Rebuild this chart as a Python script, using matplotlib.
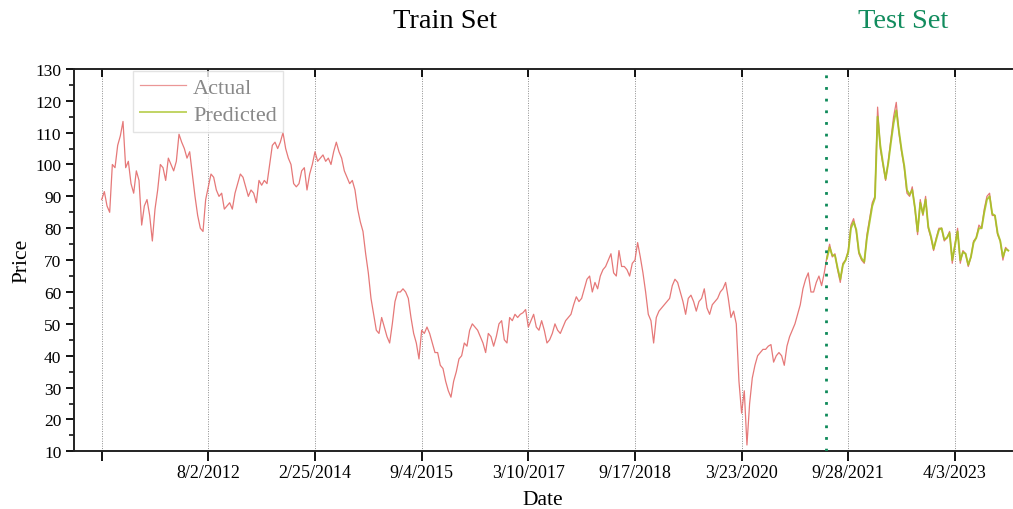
import numpy as np
import matplotlib
matplotlib.use("Agg")
import matplotlib.pyplot as plt
from matplotlib.ticker import MultipleLocator

plt.rcParams['font.family'] = ['Liberation Serif', 'DejaVu Serif']

# Daily closing price, one value every 10 trading days
actual = [
    89, 91.5, 87, 85, 100, 99, 106, 109, 113.5, 99,
    101, 94, 91, 98, 95, 81, 87, 89, 84, 76,
    86, 92, 100, 99, 95, 102, 100, 98, 101, 109.5,
    107, 105, 102, 104, 97, 90, 84, 80, 79, 89,
    93, 97, 96, 92, 90, 91, 86, 87, 88, 86,
    91, 94, 97, 96, 93, 90, 92, 91, 88, 95,
    93.5, 95, 94, 100, 106, 107, 105, 107, 110, 105,
    102, 100, 94, 93, 94, 98, 99, 92, 97, 100,
    104, 101, 102, 103, 101, 102, 100, 104, 107, 104,
    102, 98, 96, 94, 95, 92, 86, 82, 79, 72,
    66, 58, 53, 48, 47, 52, 49, 46, 44, 50,
    57, 60, 60, 61, 60, 58, 52, 47, 44, 39,
    48, 47, 49, 47, 44, 41, 41, 37, 36, 32,
    29, 27, 32, 35, 39, 40, 44, 43, 48, 50,
    49, 48, 46, 44, 41, 47, 46, 43, 46, 50,
    51, 45, 44, 52, 51, 53, 52, 53, 53.5, 54.5,
    49, 51, 53, 49, 48, 51, 48, 44, 45, 47,
    50, 48, 47, 49, 51, 52, 53, 56, 58.5, 57,
    58, 61, 64, 65, 60, 63, 61, 65, 67, 68,
    70, 72, 66, 65, 73, 68, 68, 67, 65, 69,
    70, 75.5, 71, 66, 60, 53, 51, 44, 52, 54,
    55, 56, 57, 58, 62, 64, 63, 60, 57, 53,
    58, 59, 57, 54, 57, 58, 61, 55, 53, 56,
    57, 58, 60, 61, 63, 58, 52, 54, 50, 32,
    22, 29, 12, 25, 33, 37, 40, 41, 42, 42,
    43, 43.5, 38, 40, 41, 40, 37, 43, 46, 48,
    50, 53, 56, 61, 64, 66, 60, 60, 63, 65,
    62, 66, 71, 75, 71, 72, 67, 63, 69, 70,
    73, 81, 83, 79, 72, 70, 69, 78, 83, 88,
    90, 118, 105, 100, 95, 101, 108, 115, 119.5, 110,
    104, 99, 91, 90, 93, 86, 78, 89, 84, 90,
    80, 77, 73, 77, 80, 80, 76, 77, 79, 69,
    75, 80, 69, 73, 72, 68, 71, 76, 77, 81,
    80, 86, 90, 91, 84, 84, 78, 76, 70, 74,
    73,
]

# Model output over the test period
predicted = [
    70.5, 74, 71.5, 71.5, 67.5, 64, 68.5, 70,
    72.5, 80, 82, 79.5, 72.5, 70.5, 69.5, 77, 82, 87,
    89.5, 115, 106, 100.5, 95.5, 100.5, 107, 113, 117, 110.5,
    104.5, 99.5, 92, 90.5, 92, 86.5, 79, 88, 84.5, 89,
    80.5, 77.5, 73.5, 76.5, 79.5, 80, 76.5, 77, 78.5, 70,
    74.5, 79, 70, 72.5, 72, 68.5, 71, 75.5, 77, 80,
    80, 85, 89, 90, 84.5, 84, 78.5, 76, 71, 73.5,
    73,
]

tick_labels = ['', '8/2/2012', '2/25/2014', '9/4/2015', '3/10/2017',
               '9/17/2018', '3/23/2020', '9/28/2021', '4/3/2023']

STEP = 10          # trading days between stored values
TICK_EVERY = 400   # trading days between date ticks
SPLIT = 2715       # first trading day of the test set

x_actual = np.arange(len(actual)) * STEP
x_pred = x_actual[-len(predicted):]

fig = plt.figure(figsize=(10.13, 5.10), dpi=100)
ax = fig.add_axes([0.073, 0.113, 0.926, 0.750])

ax.plot(x_actual, actual, color='#e36a6a', lw=0.9, alpha=0.9, label='Actual')
ax.plot(x_pred, predicted, color='#a6c323', lw=1.4, alpha=0.9, label='Predicted')

xt = np.arange(len(tick_labels)) * TICK_EVERY
for xv in xt:
    ax.axvline(xv, color='#8c8c8c', lw=0.7, ls=(0, (1, 1.5)), zorder=0)
ax.axvline(SPLIT, color='#0e8a5a', lw=2.0, ls=(0, (1, 3.2)), zorder=3)

ax.set_xlim(-104, 3414)
ax.set_ylim(10, 130)
ax.set_xticks(xt)
ax.set_xticklabels(tick_labels, fontsize=13)
ax.yaxis.set_major_locator(MultipleLocator(10))
ax.yaxis.set_minor_locator(MultipleLocator(5))
ax.tick_params(axis='y', which='major', direction='out', length=6, width=1.3, labelsize=12.5, pad=3)
ax.tick_params(axis='y', which='minor', direction='out', length=3.5, width=1.1)
ax.tick_params(axis='x', which='major', direction='out', length=7, width=1.3, pad=2)

# inward tick marks along the top edge
sec = ax.secondary_xaxis('top')
sec.set_xticks(xt)
sec.set_xticklabels([])
sec.tick_params(direction='in', length=6, width=1.3)
sec.spines['top'].set_visible(False)

for s in ['left', 'bottom', 'top']:
    ax.spines[s].set_linewidth(1.4)
    ax.spines[s].set_color('#222222')
ax.spines['right'].set_visible(False)

ax.set_xlabel('Date', fontsize=15.5, labelpad=6.5)
ax.set_ylabel('Price', fontsize=15.5, labelpad=3)

leg = ax.legend(loc='upper left', bbox_to_anchor=(0.063, 0.995), borderaxespad=0,
                fontsize=16, frameon=True, fancybox=False, handlelength=2.1,
                handletextpad=0.3, borderpad=0.3, labelspacing=0.3)
leg.get_frame().set_edgecolor('#dddddd')
leg.get_frame().set_linewidth(1.0)
for t in leg.get_texts():
    t.set_color('#888888')
for h in leg.get_lines():
    h.set_alpha(0.7)

fig.text(445 / 1013, 1 - 22 / 510, 'Train Set', ha='center', va='center', fontsize=20.5, color='black')
fig.text(903 / 1013, 1 - 22 / 510, 'Test Set', ha='center', va='center', fontsize=20.5, color='#128c5e')

fig.savefig('out.png', dpi=100)
